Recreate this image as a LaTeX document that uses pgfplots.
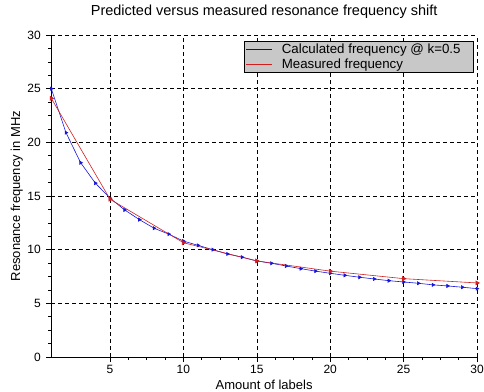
\documentclass[border=0pt]{standalone}
\usepackage{pgfplots}
\pgfplotsset{compat=1.18}
\usepackage{fontspec}
\setmainfont{Liberation Sans}
\definecolor{calcblue}{RGB}{20,20,220}
\definecolor{legblue}{RGB}{0,0,255}
\definecolor{measred}{RGB}{210,30,30}
\definecolor{leggray}{RGB}{200,200,200}
\begin{document}
\begin{tikzpicture}
\begin{axis}[
  name=a, at={(0,0)}, anchor=south west,
  scale only axis, width=425.7bp, height=322bp,
  xmin=1, xmax=30, ymin=0, ymax=30,
  xtick={5,10,15,20,25,30}, ytick={0,5,10,15,20,25,30},
  minor tick num=3,
  axis x line*=bottom, axis y line*=left,
  axis line style={-, line width=0.8pt},
  tick align=outside,
  major tick length=5bp, minor tick length=3bp,
  tick style={black, line width=0.6pt},
  grid=major,
  major grid style={black, dash pattern=on 4bp off 3bp, line width=0.5pt},
  /pgf/number format/assume math mode=true,
  ticklabel style={font=\fontsize{12bp}{13bp}\selectfont},
  xticklabel style={anchor=center, yshift=-7bp},
  yticklabel style={anchor=east, xshift=-2bp},
  title={Predicted versus measured resonance frequency shift},
  title style={at={(0.5,1)}, anchor=center, yshift=17bp,
    font=\fontsize{14.5bp}{16bp}\selectfont},
  xlabel={Amount of labels},
  ylabel={Resonance frequency in MHz},
  label style={font=\fontsize{13bp}{14bp}\selectfont},
  xlabel style={at={(0.5,0)}, anchor=center, yshift=-28bp},
  ylabel style={at={(0,0.5)}, anchor=center, yshift=34.5bp},
  legend style={at={(0.9906,0.981)}, anchor=north east, fill=leggray, draw=black,
    font=\fontsize{13.3bp}{14bp}\selectfont, inner xsep=2bp, inner ysep=0.8bp,
    row sep=-0.5bp, legend cell align=left},
  clip=false,
]
\addplot[calcblue, line width=0.6pt, mark=triangle*, mark size=1.8bp,
  mark options={rotate=-90, fill=calcblue, draw=calcblue},
  legend image code/.code={\draw[draw=legblue, line width=0.9pt] (0bp,0bp) -- (26bp,0bp);}] coordinates {
(1,25) (2,20.9) (3,18.1) (4,16.2) (5,14.8) (6,13.7) (7,12.8) (8,12.0)
(9,11.45) (10,10.8) (11,10.4) (12,10.0) (13,9.6) (14,9.3) (15,8.95)
(16,8.73) (17,8.48) (18,8.23) (19,8.0) (20,7.8) (21,7.61) (22,7.43)
(23,7.27) (24,7.11) (25,6.99) (26,6.87) (27,6.72) (28,6.62) (29,6.5) (30,6.37)
};
\addlegendentry{\hspace*{7bp}\makebox[187bp][l]{Calculated frequency @ k=0.5}}
\addplot[measred, line width=0.6pt, mark=triangle*, mark size=2.3bp,
  mark options={rotate=-90, fill=measred, draw=measred},
  legend image code/.code={\draw[draw=measred, line width=0.8pt] (0bp,0bp) -- (26bp,0bp);}] coordinates {
(1,24.1) (5,14.7) (10,10.65) (15,8.95) (20,8.0) (25,7.3) (30,6.9)
};
\addlegendentry{\hspace*{7bp}\makebox[187bp][l]{Measured frequency}}
\end{axis}
\pgfresetboundingbox
\path[use as bounding box] (-51.3bp,-35bp) rectangle (432.7bp,357bp);
\end{tikzpicture}
\end{document}
